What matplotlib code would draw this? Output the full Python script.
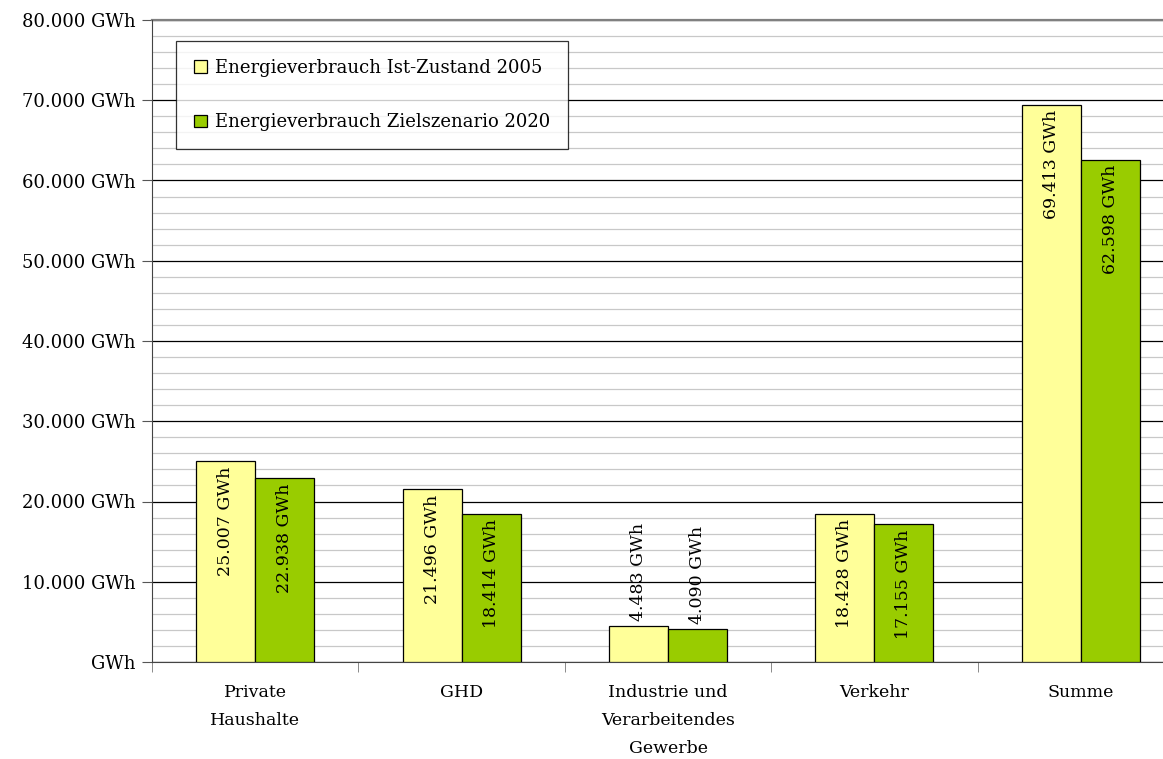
import matplotlib.pyplot as plt
from matplotlib.ticker import MultipleLocator, FuncFormatter
import numpy as np

plt.rcParams['font.family'] = ['DejaVu Serif']

categories = ['Private\nHaushalte', 'GHD', 'Industrie und\nVerarbeitendes\nGewerbe', 'Verkehr', 'Summe']
ist_2005 = [25007, 21496, 4483, 18428, 69413]
ziel_2020 = [22938, 18414, 4090, 17155, 62598]
series_names = ['Energieverbrauch Ist-Zustand 2005', 'Energieverbrauch Zielszenario 2020']


def de_fmt(v):
    return f'{v:,.0f}'.replace(',', '.')


fig = plt.figure(figsize=(11.63, 7.59), dpi=100)
# plot area runs a bit past the right edge, like the original
ax_w = 1032
ax = fig.add_axes([152 / 1163, 1 - 662 / 759, ax_w / 1163, 642 / 759])

x = np.arange(len(categories))
w = 0.286
b1 = ax.bar(x - w / 2, ist_2005, w, color='#FFFF99', edgecolor='black', linewidth=0.9,
            label=series_names[0], zorder=3)
b2 = ax.bar(x + w / 2, ziel_2020, w, color='#99CC00', edgecolor='black', linewidth=0.9,
            label=series_names[1], zorder=3)

# value labels, rotated inside the bar top (or above for short bars)
for bars, vals in ((b1, ist_2005), (b2, ziel_2020)):
    for rect, v in zip(bars, vals):
        cx = rect.get_x() + rect.get_width() / 2
        txt = de_fmt(v) + ' GWh'
        if v > 10000:
            ax.text(cx, v - 650, txt, rotation=90, ha='center', va='top', fontsize=12.5, zorder=4)
        else:
            ax.text(cx, v + 650, txt, rotation=90, ha='center', va='bottom', fontsize=12.5, zorder=4)

ax.set_xlim(-0.5, len(categories) - 0.5)
ax.set_ylim(0, 80000)
ax.yaxis.set_major_locator(MultipleLocator(10000))
ax.yaxis.set_minor_locator(MultipleLocator(2000))
ax.yaxis.set_major_formatter(FuncFormatter(lambda v, p: 'GWh' if v == 0 else de_fmt(v) + ' GWh'))
ax.grid(axis='y', which='major', color='black', linewidth=0.9)
ax.grid(axis='y', which='minor', color='#c8c8c8', linewidth=0.9)
ax.set_axisbelow(True)
ax.axhline(80000, color='#808080', linewidth=1.6, zorder=2.5, clip_on=False)
ax.tick_params(axis='y', which='major', length=7, labelsize=13, direction='out', color='#555555', pad=5)
ax.tick_params(axis='y', which='minor', length=0)

ax.set_xticks(x)
ax.set_xticklabels(categories, fontsize=12.5, linespacing=1.85)
ax.tick_params(axis='x', which='major', length=0, pad=16)
ax.set_xticks(np.arange(len(categories) + 1) - 0.5, minor=True)
ax.tick_params(axis='x', which='minor', length=7, color='#777777')

for s in ['top', 'right']:
    ax.spines[s].set_visible(False)
ax.spines['left'].set_color('#444444')
ax.spines['bottom'].set_color('#444444')

leg = ax.legend(loc='upper left', bbox_to_anchor=(24 / ax_w, 1 - 21 / 642), fontsize=13,
                frameon=True, fancybox=False, edgecolor='black', handlelength=0.7, handleheight=0.7,
                labelspacing=2.0, borderpad=1.0, handletextpad=0.45, borderaxespad=0)
leg.get_frame().set_linewidth(0.9)
leg.set_zorder(5)

fig.savefig('out.png', dpi=100)
